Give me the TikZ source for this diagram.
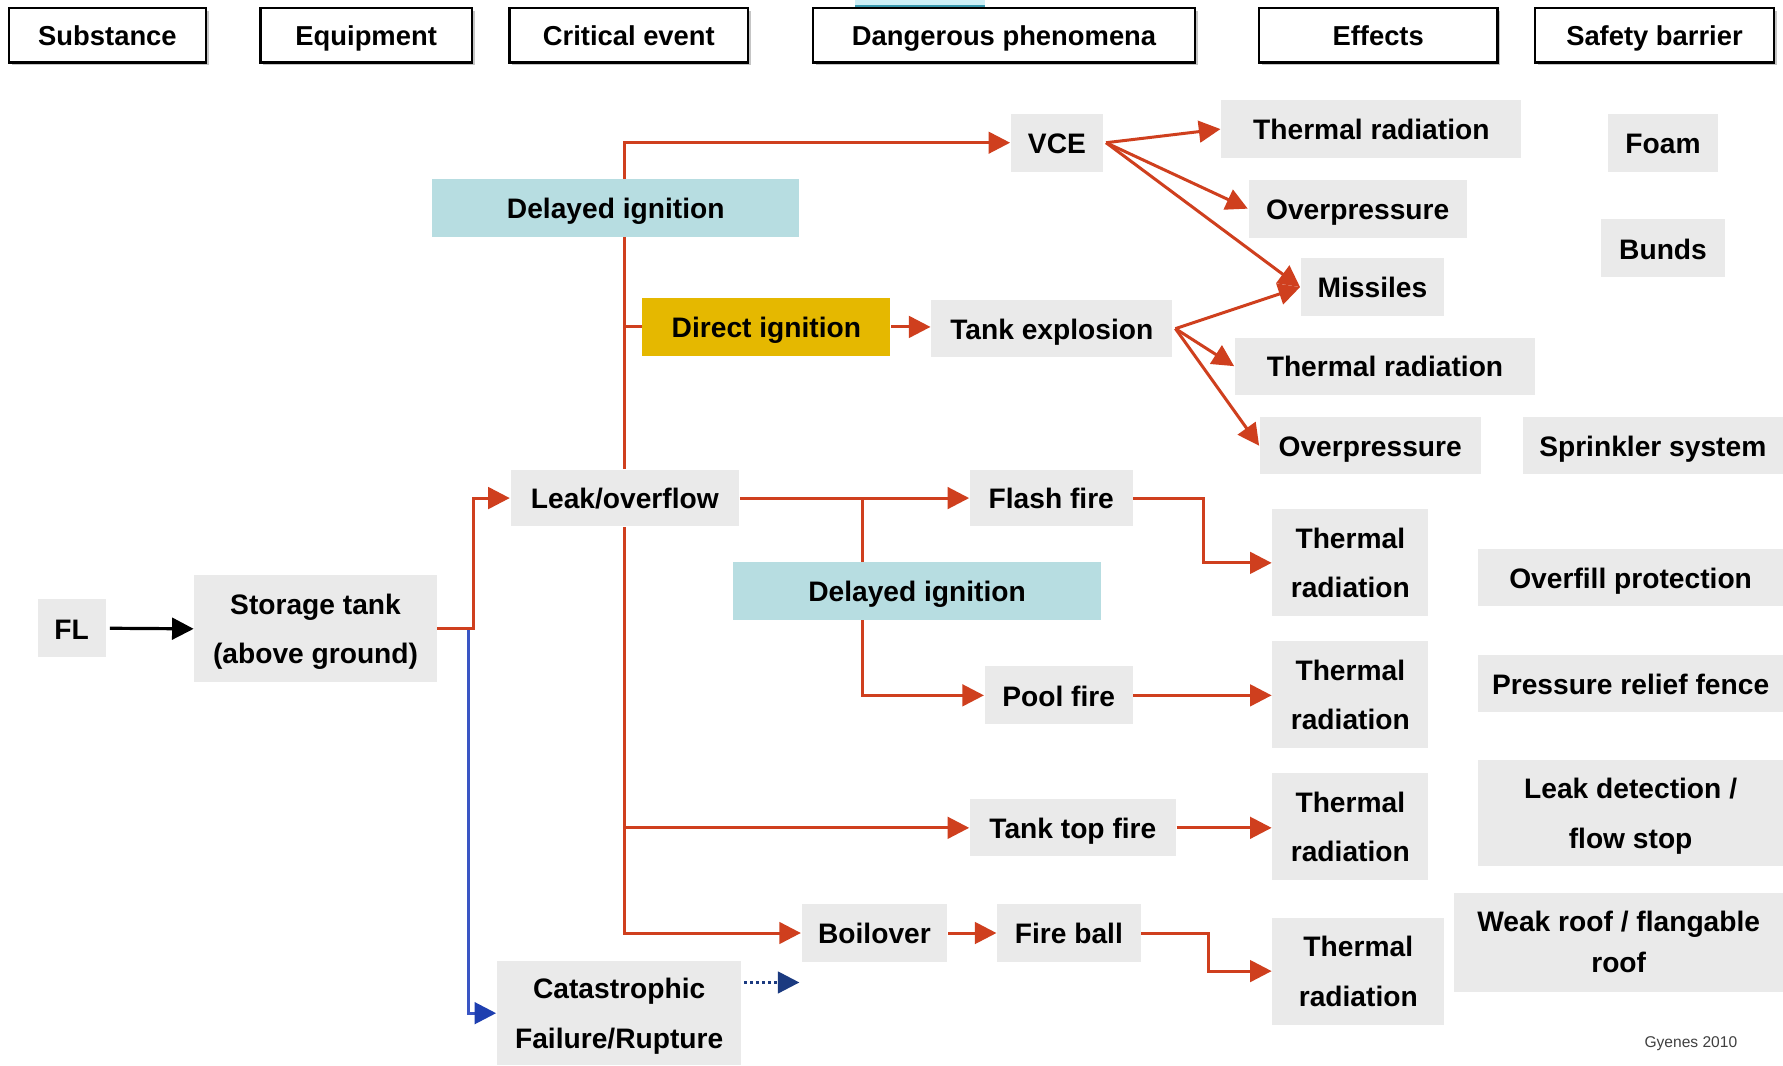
\documentclass[tikz,border=0pt]{standalone}
\usepackage{fontspec}
\setmainfont{Liberation Sans}
\usetikzlibrary{arrows.meta,calc,shadows}
\definecolor{boxgray}{HTML}{EAEAEA}
\definecolor{tealfill}{HTML}{B7DDE1}
\definecolor{goldfill}{HTML}{E5B800}
\definecolor{redl}{HTML}{CF3F1E}
\definecolor{bluel}{HTML}{3A56C4}
\definecolor{bluetip}{HTML}{1E3FB0}
\definecolor{navyl}{HTML}{1B3A80}
\definecolor{barlight}{HTML}{CDEFF6}
\definecolor{bardark}{HTML}{3A9AB0}
\pgfdeclarelayer{back}
\pgfdeclarelayer{bg}
\pgfsetlayers{back,bg,main}
\begin{document}
\begin{tikzpicture}[x=0.1mm,y=-0.1mm,
  hdr/.style={draw=black, line width=0.6pt, fill=white, inner sep=0pt, minimum height=4.8mm,
    font=\fontsize{6.85}{8}\selectfont\bfseries, text height=5.1pt, text depth=0pt,
    drop shadow={shadow xshift=0.25mm, shadow yshift=-0.25mm, opacity=0.45}},
  gbox/.style={fill=boxgray, inner sep=0pt, align=center, text depth=0pt, font=\fontsize{7.05}{12.4}\selectfont\bfseries},
  one/.style={text height=5.4pt, text depth=0pt},
  tbox/.style={gbox, fill=tealfill},
  ybox/.style={gbox, fill=goldfill},
  rline/.style={draw=redl, line width=0.75pt},
  rarrow/.style={rline, -{Triangle[length=1.9mm,width=1.9mm,fill=redl]}},
  karrow/.style={draw=black, line width=0.8pt, -{Triangle[length=1.9mm,width=1.9mm]}},
  barrow/.style={draw=bluel, line width=0.75pt, -{Triangle[length=1.9mm,width=1.9mm,fill=bluetip,color=bluetip]}},
  darrow/.style={draw=navyl, line width=0.75pt, dash pattern=on 0.6pt off 0.9pt, -{Triangle[length=1.9mm,width=1.9mm,fill=navyl]}},
]
\useasboundingbox (0,0) rectangle (1568,937);
\begin{pgfonlayer}{back}
\fill[white] (0,0) rectangle (1568,937);
\end{pgfonlayer}

% small bar at top
\fill[barlight] (752,0) rectangle (866,4);
\fill[bardark] (752,4) rectangle (866,6.5);

% headers
\node[hdr, minimum width=17.3mm] (hsub) at (94.5,31) {Substance};
\node[hdr, minimum width=18.6mm] (heq) at (322,31) {Equipment};
\node[hdr, minimum width=21mm] (hcrit) at (553,31) {Critical event};
\node[hdr, minimum width=33.6mm] (hdang) at (883,31) {Dangerous phenomena};
\node[hdr, minimum width=21mm] (heff) at (1212,31) {Effects};
\node[hdr, minimum width=21mm] (hsafe) at (1455,31) {Safety barrier};

% main nodes
\node[gbox, one, minimum width=6mm, minimum height=5.1mm] (fl) at (63,552.5) {FL};
\node[gbox, minimum width=21.3mm, minimum height=9.4mm] (tank) at (277.5,553) {Storage tank\\(above ground)};
\node[gbox, one, minimum width=20.1mm, minimum height=5mm] (leak) at (549.5,438) {Leak/overflow};
\node[gbox, minimum width=21.5mm, minimum height=9.2mm] (cat) at (544.5,891) {Catastrophic\\Failure/Rupture};
\node[tbox, one, minimum width=32.3mm, minimum height=5.1mm] (del1) at (541.5,182.5) {Delayed ignition};
\node[ybox, one, minimum width=21.8mm, minimum height=5.1mm] (dir) at (674,287.5) {Direct ignition};
\node[gbox, one, minimum width=21.2mm, minimum height=5mm] (texp) at (925,289) {Tank explosion};
\node[gbox, one, minimum width=8.1mm, minimum height=5.1mm] (vce) at (929.5,125.5) {VCE};
\node[gbox, one, minimum width=26.4mm, minimum height=5.1mm] (tr1) at (1206,113.5) {Thermal radiation};
\node[gbox, one, minimum width=19.2mm, minimum height=5.1mm] (op1) at (1194,183.5) {Overpressure};
\node[gbox, one, minimum width=12.6mm, minimum height=5.1mm] (mis) at (1207,252.5) {Missiles};
\node[gbox, one, minimum width=26.4mm, minimum height=5mm] (tr2) at (1218,322) {Thermal radiation};
\node[gbox, one, minimum width=19.4mm, minimum height=5mm] (op2) at (1205,392) {Overpressure};
\node[gbox, one, minimum width=9.7mm, minimum height=5.1mm] (foam) at (1462.5,125.5) {Foam};
\node[gbox, one, minimum width=10.9mm, minimum height=5.1mm] (bunds) at (1462.5,218.5) {Bunds};
\node[gbox, one, minimum width=22.9mm, minimum height=5mm] (sprink) at (1453.5,392) {Sprinkler system};
\node[gbox, one, minimum width=14.3mm, minimum height=5mm] (flash) at (924.5,438) {Flash fire};
\node[tbox, one, minimum width=32.3mm, minimum height=5.1mm] (del2) at (806.5,519.5) {Delayed ignition};
\node[gbox, minimum width=13.7mm, minimum height=9.4mm] (tr3) at (1187.5,495) {Thermal\\radiation};
\node[gbox, one, minimum width=13mm, minimum height=5.1mm] (pool) at (931,611.5) {Pool fire};
\node[gbox, minimum width=13.7mm, minimum height=9.4mm] (tr4) at (1187.5,611) {Thermal\\radiation};
\node[gbox, one, minimum width=18.1mm, minimum height=5mm] (ttf) at (943.5,728) {Tank top fire};
\node[gbox, minimum width=13.7mm, minimum height=9.4mm] (tr5) at (1187.5,727) {Thermal\\radiation};
\node[gbox, one, minimum width=12.8mm, minimum height=5.1mm] (boil) at (769,820.5) {Boilover};
\node[gbox, one, minimum width=12.6mm, minimum height=5.1mm] (fball) at (940,820.5) {Fire ball};
\node[gbox, minimum width=15.1mm, minimum height=9.4mm] (tr6) at (1194.5,854) {Thermal\\radiation};
\node[gbox, one, minimum width=26.8mm, minimum height=5mm] (overfill) at (1434,508) {Overfill protection};
\node[gbox, one, minimum width=26.8mm, minimum height=5mm] (prf) at (1434,601) {Pressure relief fence};
\node[gbox, minimum width=26.8mm, minimum height=9.4mm] (leakdet) at (1434,715) {Leak detection /\\flow stop};
\node[gbox, minimum width=28.9mm, minimum height=8.7mm, font=\fontsize{7.05}{10.2}\selectfont\bfseries] (weak) at (1423.5,828.5) {Weak roof / flangable\\roof};
\node[text=black!75, inner sep=0pt, font=\fontsize{3.9}{4.5}\selectfont] (credit) at (1487,918) {Gyenes 2010};

% connectors
\begin{pgfonlayer}{bg}
\draw[karrow] ($(fl.east)+(3,0)$) -- (tank.west);
\path (tank.east) ++(32,0) coordinate (tk1);
\path (tank.east) ++(27,0) coordinate (tk2);
\draw[barrow] (tk2) |- (cat.west);
\draw[rarrow] (tank.east) -- (tk1) |- (leak.west);
\path (cat.east) ++(2,-27) coordinate (dots);
\coordinate (dotend) at (703,864);
\draw[darrow] (dots) -- (dotend);

\draw[rarrow] (leak.north) |- (vce.west);
\draw[rline] (leak.north |- dir.west) -- (dir.west);
\draw[rarrow] (leak.south) |- (boil.west);
\draw[rarrow] (leak.south |- ttf.west) -- (ttf.west);
\draw[rarrow] (leak.east) -- (flash.west);
\path (leak.east) ++(108,0) coordinate (bp);
\draw[rarrow] (bp) |- (pool.west);

\draw[rarrow] (dir.east) -- (dir.east -| texp.west);
\draw[rarrow] ($(vce.east)+(2,0)$) -- (tr1.west);
\draw[rarrow] ($(vce.east)+(2,0)$) -- (op1.west);
\draw[rarrow] ($(vce.east)+(2,0)$) -- (mis.west);
\draw[rarrow] ($(texp.east)+(2,0)$) -- (mis.west);
\draw[rarrow] ($(texp.east)+(2,0)$) -- (tr2.west);
\draw[rarrow] ($(texp.east)+(2,0)$) -- (op2.west);

\draw[rarrow] (flash.east) -- ++(62,0) |- (tr3.west);
\draw[rarrow] (pool.east) -- (pool.east -| tr4.west);
\draw[rarrow] (ttf.east) -- (ttf.east -| tr5.west);
\draw[rarrow] (boil.east) -- (fball.west);
\draw[rarrow] (fball.east) -- ++(59,0) |- (tr6.west);
\end{pgfonlayer}
\end{tikzpicture}
\end{document}
